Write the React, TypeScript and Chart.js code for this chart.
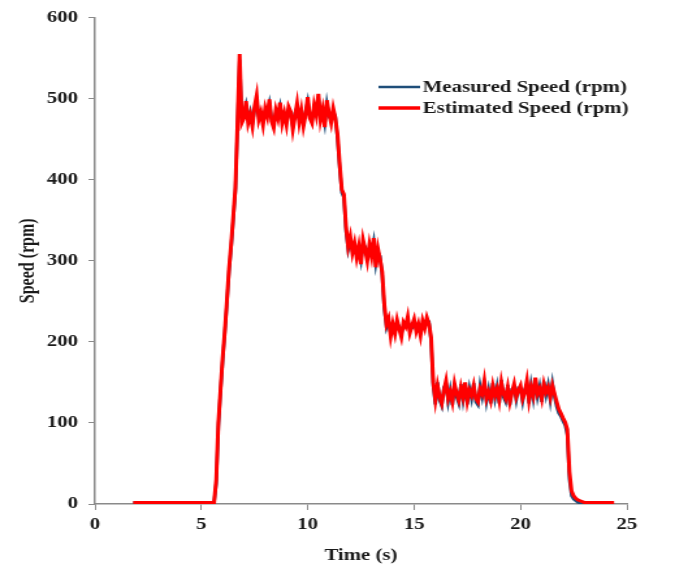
import React, { useEffect, useRef } from "react";
import { Chart, registerables } from "chart.js";

Chart.register(...registerables);

// Sample times (s)
const TIME: number[] = [
  1.8, 5.6, 5.7, 5.8, 5.9, 6.0, 6.1, 6.2, 6.3, 6.4, 6.5, 6.6, 6.7, 6.8, 6.9,
  7.0, 7.1, 7.2, 7.3, 7.4, 7.5, 7.6, 7.7, 7.8, 7.9,
  8.0, 8.1, 8.2, 8.3, 8.4, 8.5, 8.6, 8.7, 8.8, 8.9,
  9.0, 9.1, 9.2, 9.3, 9.4, 9.5, 9.6, 9.7, 9.8, 9.9,
  10.0, 10.1, 10.2, 10.3, 10.4, 10.5, 10.6, 10.7, 10.8, 10.9,
  11.0, 11.1, 11.2, 11.3, 11.4, 11.5, 11.6, 11.7, 11.8, 11.9,
  12.0, 12.1, 12.2, 12.3, 12.4, 12.5, 12.6, 12.7, 12.8, 12.9,
  13.0, 13.1, 13.2, 13.3, 13.4, 13.5, 13.6, 13.7, 13.8, 13.9,
  14.0, 14.1, 14.2, 14.3, 14.4, 14.5, 14.6, 14.7, 14.8, 14.9,
  15.0, 15.1, 15.2, 15.3, 15.4, 15.5, 15.6, 15.7, 15.8, 15.9,
  16.0, 16.1, 16.2, 16.3, 16.4, 16.5, 16.6, 16.7, 16.8, 16.9,
  17.0, 17.1, 17.2, 17.3, 17.4, 17.5, 17.6, 17.7, 17.8, 17.9,
  18.0, 18.1, 18.2, 18.3, 18.4, 18.5, 18.6, 18.7, 18.8, 18.9,
  19.0, 19.1, 19.2, 19.3, 19.4, 19.5, 19.6, 19.7, 19.8, 19.9,
  20.0, 20.1, 20.2, 20.3, 20.4, 20.5, 20.6, 20.7, 20.8, 20.9,
  21.0, 21.1, 21.2, 21.3, 21.4, 21.5, 21.6, 21.7, 21.8, 21.9,
  22.0, 22.1, 22.2, 22.3, 22.4, 22.5, 22.6, 22.7, 22.8, 22.9,
  23.0, 23.1, 23.2, 24.4,
];

// Measured Speed (rpm)
const MEASURED: (number | null)[] = [
  2, 2, 25, 95, 138, 176, 210, 246, 286, 316, 350, 386, 465, 548, 476,
  480, 492, 474, 484, 470, 486, 498, 478, 480, 472,
  484, 481, 494, 476, 468, 482, 479, 491, 474, 479,
  472, 486, 481, 466, 482, 490, 475, 483, 470, 484,
  497, 479, 473, 488, 483, 501, 477, 484, 469, 494,
  478, 474, 484, 478, 450, 415, 384, 378, 336, 314,
  326, 313, 318, 308, 314, 300, 322, 317, 304, 316,
  310, 324, 296, 311, 306, 282, 240, 218, 226, 210,
  218, 214, 223, 219, 210, 220, 222, 227, 215, 217,
  224, 216, 219, 212, 222, 220, 226, 225, 200, 145,
  123, 150, 128, 121, 144, 148, 126, 141, 122, 144,
  132, 124, 148, 128, 146, 123, 143, 130, 149, 126,
  122, 146, 132, 148, 126, 141, 124, 149, 130, 145,
  124, 153, 132, 126, 147, 122, 142, 144, 128, 143,
  142, 126, 141, 148, 124, 147, 130, 152, 132, 145,
  126, 151, 134, 147, 128, 149, 132, 120, 112, 108,
  102, 97, 85, 30, 10, 6, 4, 2, 1, 0,
  0, 0, 0, null,
];

// Estimated Speed (rpm)
const ESTIMATED: (number | null)[] = [
  2, 2, 30, 100, 140, 180, 212, 250, 290, 320, 355, 390, 470, 555, 470,
  476, 497, 470, 480, 466, 490, 504, 474, 483, 468,
  488, 478, 499, 472, 464, 486, 476, 495, 470, 482,
  468, 490, 484, 462, 478, 494, 471, 486, 466, 480,
  502, 476, 470, 492, 480, 506, 474, 487, 465, 498,
  482, 470, 488, 476, 456, 420, 388, 382, 342, 318,
  330, 310, 322, 304, 318, 296, 326, 314, 300, 320,
  306, 328, 292, 315, 302, 286, 246, 222, 229, 207,
  222, 210, 227, 216, 206, 224, 219, 231, 211, 220,
  228, 213, 222, 208, 226, 217, 230, 222, 205, 150,
  128, 146, 132, 124, 140, 152, 130, 138, 126, 148,
  136, 128, 144, 132, 150, 127, 140, 134, 146, 130,
  126, 142, 136, 152, 130, 138, 128, 146, 134, 142,
  128, 150, 136, 130, 144, 126, 138, 148, 132, 140,
  146, 130, 138, 152, 128, 144, 134, 156, 136, 142,
  130, 148, 138, 144, 132, 146, 136, 126, 117, 112,
  106, 101, 92, 40, 16, 10, 7, 5, 4, 3,
  2, 2, 2, 2,
];

const SERIES_NAMES = ["Measured Speed (rpm)", "Estimated Speed (rpm)"];
const SERIES_COLORS = ["#1f4e79", "#ff0000"];
const X_TITLE = "Time (s)";
const Y_TITLE = "Speed (rpm)";

const OUTER_W = 688;
const OUTER_H = 565;
const INNER_W = 529;
const STRETCH = OUTER_W / INNER_W;
const FONT_FAMILY = '"Liberation Serif", "Times New Roman", serif';
const AXIS_COLOR = "#8a8a8a";

const legendPlugin = {
  id: "insideLegend",
  afterDraw(chart: any) {
    const ctx = chart.ctx as CanvasRenderingContext2D;
    const rows = [
      { y: 87, color: SERIES_COLORS[0], width: 2.5, text: SERIES_NAMES[0] },
      { y: 108, color: SERIES_COLORS[1], width: 3.5, text: SERIES_NAMES[1] },
    ];
    ctx.save();
    for (const r of rows) {
      ctx.beginPath();
      ctx.strokeStyle = r.color;
      ctx.lineWidth = r.width;
      ctx.moveTo(291, r.y);
      ctx.lineTo(323, r.y);
      ctx.stroke();
      ctx.fillStyle = "#1a1a1a";
      ctx.font = `bold 16px ${FONT_FAMILY}`;
      ctx.textBaseline = "middle";
      ctx.textAlign = "left";
      ctx.fillText(r.text, 325, r.y + 1);
    }
    ctx.restore();
  },
};

export default function App() {
  const canvasRef = useRef<HTMLCanvasElement | null>(null);

  useEffect(() => {
    document.body.style.margin = "0";
    const canvas = canvasRef.current;
    if (!canvas) return;
    const chart = new Chart(canvas, {
      type: "line",
      data: {
        datasets: [
          {
            label: SERIES_NAMES[0],
            data: TIME.map((t, i) => ({ x: t, y: MEASURED[i] })) as any,
            borderColor: SERIES_COLORS[0],
            backgroundColor: SERIES_COLORS[0],
            borderWidth: 2.5,
            pointRadius: 0,
            tension: 0,
            spanGaps: false,
            order: 2,
          },
          {
            label: SERIES_NAMES[1],
            data: TIME.map((t, i) => ({ x: t, y: ESTIMATED[i] })) as any,
            borderColor: SERIES_COLORS[1],
            backgroundColor: SERIES_COLORS[1],
            borderWidth: 3,
            pointRadius: 0,
            tension: 0,
            spanGaps: false,
            order: 1,
          },
        ],
      },
      options: {
        responsive: false,
        animation: false,
        events: [],
        layout: { padding: { top: 14, right: 47, left: 0, bottom: 0 } },
        plugins: {
          legend: { display: false },
          tooltip: { enabled: false },
        },
        scales: {
          x: {
            type: "linear",
            min: 0,
            max: 25,
            afterFit: (s: any) => {
              s.height = 61;
            },
            ticks: {
              stepSize: 5,
              padding: 5,
              color: "#1a1a1a",
              font: { family: FONT_FAMILY, size: 16, weight: "bold" },
            },
            grid: {
              drawOnChartArea: false,
              drawTicks: true,
              tickLength: 6,
              color: AXIS_COLOR,
            },
            border: { color: AXIS_COLOR, width: 1.5 },
            title: {
              display: true,
              text: X_TITLE,
              color: "#1a1a1a",
              font: { family: FONT_FAMILY, size: 16, weight: "bold" },
              padding: { top: 0, bottom: 0 },
            },
          },
          y: {
            min: 0,
            max: 600,
            afterFit: (s: any) => {
              s.width = 73;
            },
            ticks: {
              stepSize: 100,
              padding: 8,
              color: "#1a1a1a",
              font: { family: FONT_FAMILY, size: 16, weight: "bold" },
            },
            grid: {
              drawOnChartArea: false,
              drawTicks: true,
              tickLength: 5,
              color: AXIS_COLOR,
            },
            border: { color: AXIS_COLOR, width: 1.5 },
            title: {
              display: true,
              text: Y_TITLE,
              color: "#1a1a1a",
              font: { family: FONT_FAMILY, size: 16, weight: "bold" },
              padding: { top: 12, bottom: 0 },
            },
          },
        },
      },
      plugins: [legendPlugin],
    });
    return () => chart.destroy();
  }, []);

  return (
    <div style={{ width: OUTER_W, height: OUTER_H, overflow: "hidden", background: "#fff" }}>
      <div
        style={{
          width: INNER_W,
          height: OUTER_H,
          transform: `scaleX(${STRETCH})`,
          transformOrigin: "0 0",
        }}
      >
        <canvas ref={canvasRef} width={INNER_W} height={OUTER_H} />
      </div>
    </div>
  );
}
